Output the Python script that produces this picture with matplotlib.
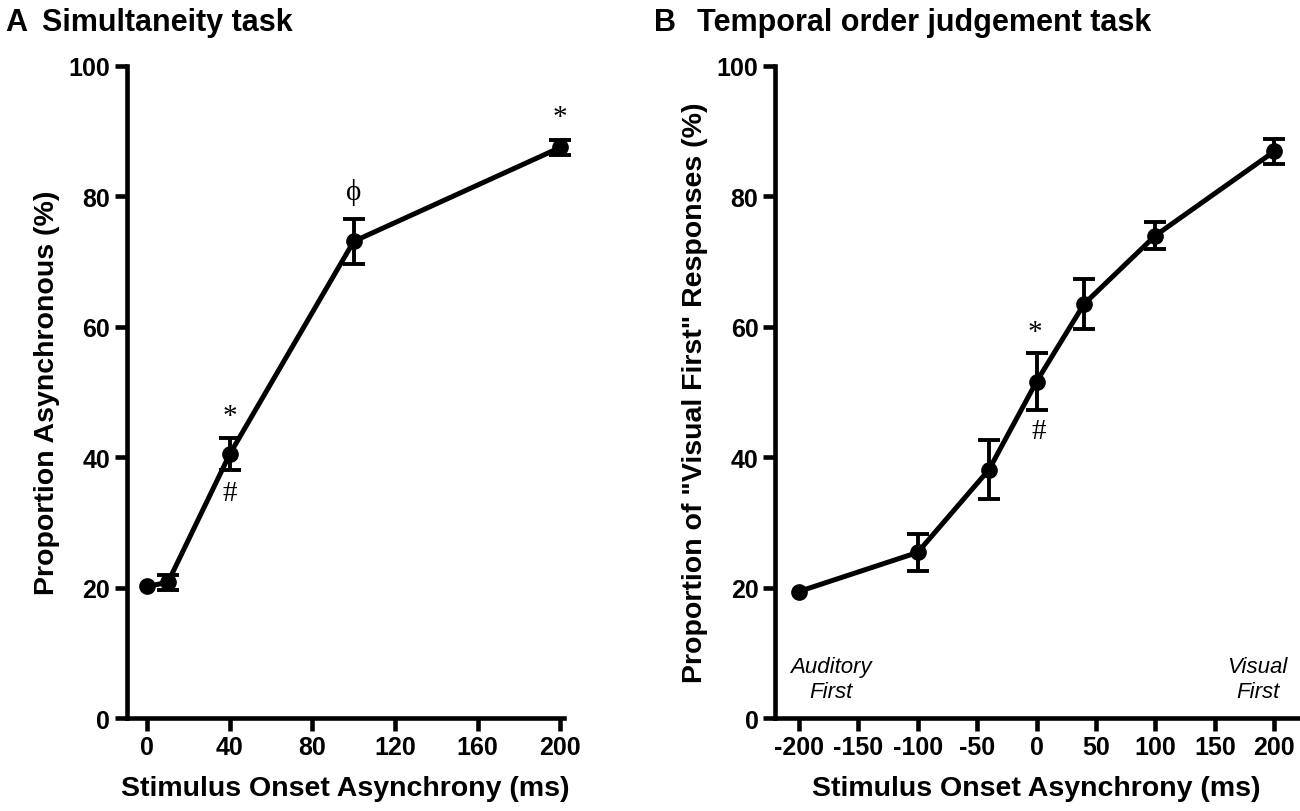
import matplotlib
matplotlib.use("Agg")
import matplotlib.pyplot as plt

# ---- data ----
soa_a = [0, 10, 40, 100, 200]
prop_a = [20.2, 20.8, 40.5, 73.1, 87.5]
err_a = [0.0, 1.2, 2.5, 3.5, 1.1]
xticks_a = [0, 40, 80, 120, 160, 200]

soa_b = [-200, -100, -40, 0, 40, 100, 200]
prop_b = [19.4, 25.4, 38.1, 51.6, 63.5, 74.0, 86.9]
err_b = [0.0, 2.8, 4.5, 4.4, 3.8, 2.1, 1.9]
xticks_b = [-200, -150, -100, -50, 0, 50, 100, 150, 200]

yticks = [0, 20, 40, 60, 80, 100]

# annotations: (x, y, text)
ann_a = [(40, 46.3, "*"), (40, 34.5, "#"), (100, 80.8, "ϕ"), (200, 92.2, "*")]
ann_b = [(-1, 59.2, "*"), (2, 44.0, "#")]

plt.rcParams['font.family'] = ['Liberation Sans', 'DejaVu Sans']
plt.rcParams['font.weight'] = 'bold'
plt.rcParams['axes.unicode_minus'] = False

fig = plt.figure(figsize=(13, 8.12), dpi=100)
axA = fig.add_axes([0.0974, 0.1145, 0.3367, 0.803])
axB = fig.add_axes([0.5962, 0.1145, 0.4023, 0.803])

LW = 3.6
SP = 3.3


def style(ax):
    for s in ['top', 'right']:
        ax.spines[s].set_visible(False)
    for s in ['left', 'bottom']:
        ax.spines[s].set_linewidth(SP)
        ax.spines[s].set_capstyle('projecting')
    ax.tick_params(axis='both', width=SP, length=9, direction='out',
                   labelsize=18, pad=3)
    ax.set_yticks(yticks)
    ax.set_ylim(0, 100)
    for lab in ax.get_xticklabels() + ax.get_yticklabels():
        lab.set_fontweight('bold')


def draw(ax, x, y, e):
    ax.plot(x, y, color='black', lw=LW, marker='o', markersize=11,
            clip_on=False, zorder=3)
    ex = [xi for xi, ei in zip(x, e) if ei > 0]
    ey = [yi for yi, ei in zip(y, e) if ei > 0]
    ee = [ei for ei in e if ei > 0]
    ax.errorbar(ex, ey, yerr=ee, fmt='none', ecolor='black', elinewidth=2.8,
                capsize=8, capthick=2.8, clip_on=False, zorder=3)


LABEL_FS = 20.5
SYM = ['Liberation Serif', 'DejaVu Serif']

draw(axA, soa_a, prop_a, err_a)
axA.set_xlim(-10, 202)
axA.set_xticks(xticks_a)
style(axA)
axA.set_xlabel("Stimulus Onset Asynchrony (ms)", fontsize=LABEL_FS, fontweight='bold', labelpad=12)
axA.set_ylabel("Proportion Asynchronous (%)", fontsize=LABEL_FS, fontweight='bold', labelpad=6)
for x, y, t in ann_a:
    axA.text(x, y, t, ha='center', va='center', fontsize=21, fontweight='normal', family=SYM)

draw(axB, soa_b, prop_b, err_b)
axB.set_xlim(-220, 220)
axB.set_xticks(xticks_b)
style(axB)
axB.set_xlabel("Stimulus Onset Asynchrony (ms)", fontsize=LABEL_FS, fontweight='bold', labelpad=12)
axB.set_ylabel('Proportion of "Visual First" Responses (%)', fontsize=LABEL_FS, fontweight='bold', labelpad=6)
for x, y, t in ann_b:
    axB.text(x, y, t, ha='center', va='center', fontsize=21, fontweight='normal', family=SYM)
axB.text(-173, 6.0, "Auditory\nFirst", ha='center', va='center', fontsize=16,
         fontstyle='italic', fontweight='normal', linespacing=1.2)
axB.text(186, 6.0, "Visual\nFirst", ha='center', va='center', fontsize=16,
         fontstyle='italic', fontweight='normal', linespacing=1.2)

fig.text(0.004, 0.962, "A", fontsize=22, fontweight='bold', va='baseline')
fig.text(0.032, 0.962, "Simultaneity task", fontsize=22, fontweight='bold', va='baseline')
fig.text(0.503, 0.962, "B", fontsize=22, fontweight='bold', va='baseline')
fig.text(0.536, 0.962, "Temporal order judgement task", fontsize=22, fontweight='bold', va='baseline')

fig.savefig("out.png", dpi=100)
